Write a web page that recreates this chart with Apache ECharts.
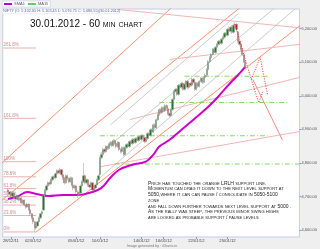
<!DOCTYPE html>
<html><head><meta charset="utf-8">
<script src="https://cdn.jsdelivr.net/npm/echarts@6/dist/echarts.min.js"></script>
<style>html,body{margin:0;padding:0;background:#efefef}#c{width:320px;height:249px}</style>
</head><body><div id="c"></div><script>
// ---------- data ----------
const legendNames = ['SMA1', 'MA15'];
const infoText = 'NIFTY (O: 5,102.65 H: 5,103.45 L: 5,076.75 C: 5,086.55)(30.01.2012)';
const titleText = '30.01.2012 - 60 min chart';
const noteLines = [
  'Price has touched the orange LRLH support line.',
  'Momentum can drag it down to the next level support at',
  '5050,where it can can pause / consolidate in 5050-5100',
  'zone',
  'and fall down further towards next level support at 5000 .',
  'As the rally was steep, the previous minor swing highs',
  'are looked as probable support / pause levels'
];
const footerText = 'Image generated by : iCharts.in';
const slotCount = 200;
const firstCandleSlot = 3;
const dateTicks = {5:'28/12/11', 20:'02/01/12', 49:'05/01/12', 65:'10/01/12', 93:'14/01/12', 108:'16/01/12', 130:'22/01/12', 151:'25/01/12'};
const yMin = 4580, yMax = 5258;
// [open, close, low, high]
const candles = [
[4720,4714,4708,4724],[4714,4708,4703,4717],[4708,4702,4697,4712],[4702,4711,4699,4714],
[4711,4699,4695,4713],[4699,4693,4688,4702],[4693,4702,4690,4706],[4702,4690,4686,4704],
[4690,4696,4687,4699],[4696,4681,4677,4699],[4681,4690,4678,4693],[4690,4675,4671,4692],
[4675,4669,4664,4679],[4669,4678,4666,4682],[4678,4661,4657,4680],[4661,4649,4644,4664],
[4649,4637,4632,4652],[4637,4625,4619,4640],[4625,4607,4596,4628],[4607,4613,4601,4617],
[4613,4625,4610,4628],[4625,4637,4621,4641],[4637,4649,4633,4652],[4649,4655,4645,4659],
[4660,4705,4658,4708],[4705,4720,4701,4724],[4720,4732,4716,4736],[4732,4741,4728,4745],
[4741,4738,4733,4746],[4738,4750,4734,4754],[4750,4759,4746,4763],[4759,4756,4751,4763],
[4756,4768,4752,4772],[4768,4777,4764,4782],[4777,4771,4766,4781],[4771,4780,4767,4786],
[4780,4765,4760,4783],[4765,4756,4750,4768],[4756,4741,4736,4759],[4741,4762,4738,4766],
[4762,4753,4748,4766],[4753,4744,4739,4757],[4744,4756,4740,4760],[4756,4735,4730,4759],
[4735,4726,4720,4739],[4726,4732,4722,4736],[4732,4714,4709,4735],[4714,4705,4696,4718],
[4705,4711,4701,4715],[4711,4732,4708,4736],[4732,4744,4728,4748],[4744,4762,4740,4800],
[4762,4741,4736,4766],[4741,4750,4737,4754],[4750,4735,4730,4753],[4735,4729,4724,4739],
[4729,4741,4726,4745],[4741,4720,4716,4744],[4720,4726,4716,4730],[4726,4735,4722,4739],
[4735,4750,4731,4754],[4750,4762,4746,4766],[4765,4816,4762,4820],[4816,4825,4812,4830],
[4825,4840,4821,4845],[4840,4834,4829,4844],[4834,4849,4830,4853],[4849,4843,4838,4853],
[4843,4855,4839,4859],[4855,4861,4851,4866],[4861,4852,4847,4865],[4852,4867,4848,4871],
[4867,4858,4853,4871],[4858,4849,4844,4862],[4849,4861,4845,4865],[4861,4840,4835,4864],
[4840,4834,4828,4844],[4834,4846,4830,4850],[4846,4825,4820,4849],[4825,4846,4822,4850],
[4846,4855,4842,4859],[4855,4849,4844,4859],[4849,4864,4845,4868],[4864,4858,4853,4868],
[4858,4870,4854,4874],[4870,4861,4856,4874],[4861,4873,4857,4877],[4873,4867,4862,4877],
[4867,4879,4863,4883],[4879,4870,4865,4883],[4870,4882,4866,4886],[4882,4876,4871,4886],
[4876,4864,4859,4880],[4864,4873,4860,4877],[4873,4888,4869,4892],[4888,4882,4877,4892],
[4882,4899,4878,4903],[4899,4893,4888,4903],[4893,4914,4889,4918],[4914,4905,4900,4918],
[4905,4929,4901,4933],[4929,4944,4925,4948],[4944,4959,4940,4963],[4959,4950,4945,4963],
[4950,4965,4946,4969],[4965,4956,4951,4969],[4956,4971,4952,4975],[4971,4962,4957,4975],
[4962,4947,4942,4966],[4947,4941,4936,4951],[4941,4959,4937,4963],[4959,4989,4955,4993],
[4989,5013,4985,5017],[5013,5019,5009,5024],[5019,5004,4999,5023],[5004,5031,5000,5035],
[5031,5025,5020,5035],[5025,5037,5021,5041],[5037,5019,5014,5041],[5019,5034,5015,5038],
[5034,5043,5030,5047],[5043,5025,5020,5047],[5025,5037,5021,5041],[5037,5031,5026,5041],
[5031,5049,5027,5053],[5049,5040,5035,5053],[5040,5019,5014,5044],[5019,5037,5015,5041],
[5037,5028,5023,5041],[5028,5043,5024,5047],[5043,5052,5039,5056],[5052,5040,5035,5056],
[5040,5055,5036,5059],[5055,5061,5051,5066],[5061,5078,5057,5082],[5078,5102,5074,5106],
[5102,5114,5098,5118],[5114,5123,5110,5127],[5123,5138,5119,5142],[5138,5129,5124,5142],
[5129,5144,5125,5148],[5144,5153,5140,5157],[5153,5162,5149,5166],[5162,5156,5151,5166],
[5156,5168,5152,5172],[5168,5174,5164,5178],[5174,5186,5170,5190],[5186,5180,5175,5190],
[5180,5198,5176,5202],[5198,5192,5187,5206],[5192,5204,5188,5208],[5204,5189,5184,5210],
[5189,5210,5185,5214],[5210,5213,5205,5218],[5213,5198,5193,5217],[5190,5162,5157,5193],
[5162,5153,5148,5166],[5153,5138,5133,5157],[5138,5123,5118,5142],[5123,5102,5097,5127],
[5102,5084,5078,5106]
];
// moving average path [slot, price]
const smaPoints = [[3,4693],[10,4702],[16,4714],[22,4708],[30,4702],[40,4705],[50,4705],[60,4714],[66,4726],
  [72,4756],[78,4780],[87,4795],[96,4804],[101,4825],[105,4849],[112,4869],[120,4899],[128,4929],
  [136,4959],[143,4989],[149,5019],[154,5043],[159,5066],[163,5087]];
const fibLabels = ['0%','23.6%','38.2%','50.0%','61.8%','78.6%','100%','161.8%','261.8%'];
const fibPrices = [4595,4644,4675,4700,4724,4759,4804,4933,5142];
const fibFromSlot = -0.5, fibToSlot = 22.2;
const orangeLines = [
  [[-5.2,4784],[118.2,5281]],
  [[-1.8,4686],[199.5,5407]],
  [[21.5,4595],[199.5,5209]]
];
const grayLines = [
  [[64.8,4828],[191.5,5295]],
  [[64.8,4756],[198.2,5264]],
  [[71.5,4913],[158.2,5243]]
];
const pinkLines = [
  [[64.8,5262],[200.2,5202]],
  [[64.8,4789],[200.2,4894]],
  [[84.8,4929],[200.2,5055]],
  [[111.5,5108],[200.2,5153]]
];
// [price, fromSlot, toSlot]
const greenLevels = [[5058,121.5,178.2],[4980,104.8,191.5],[4881,64.8,178.2],[4797,74.8,201.5]];
const redDotted = [
  [[156.2,5213],[166.8,5049],[172.8,5114],[178.2,5004]],
  [[166.8,5049],[171.5,4980],[174.8,5013]]
];
const redSolid = [[[168.2,5049],[188.2,4869]]];

// ---------- chart ----------
const chart = echarts.init(document.getElementById('c'), null, {renderer:'canvas'});
const slots = Array.from({length: slotCount}, (_, i) => String(i));
const candleData = slots.map((_, i) => candles[i - firstCandleSlot] || '-');
const isTick = (i) => dateTicks[i] !== undefined;

function lineSeries(pts, color, width, type, z) {
  return {type:'line', data: pts, symbol:'none', silent:true, clip:true, z: z || 2,
    lineStyle:{color, width, type: type || 'solid'}, animation:false};
}
const series = [];
series.push({type:'candlestick', name:'NIFTY', data: candleData, barWidth: 1.8, z: 5,
  itemStyle:{color:'#1f7a1f', color0:'#b52020', borderColor:'#9a9a9a', borderColor0:'#9a9a9a', borderWidth:0.5}});
orangeLines.forEach(l => series.push(lineSeries(l, '#f59070', 1)));
grayLines.forEach(l => series.push(lineSeries(l, '#cccccc', 1)));
pinkLines.forEach(l => series.push(lineSeries(l, '#f2b4b4', 1)));
greenLevels.forEach(g => series.push(lineSeries([[g[1], g[0]], [g[2], g[0]]], '#86d866', 1, [5,2,1,2])));
redDotted.forEach(l => series.push(lineSeries(l, '#e83030', 1, [1,1.5], 6)));
redSolid.forEach(l => series.push(lineSeries(l, '#f08a8a', 1)));
fibPrices.forEach(p => series.push(lineSeries([[fibFromSlot, p], [fibToSlot, p]], '#e8b0b0', 1)));
series.push({type:'scatter', silent:true, symbolSize:0, z:3,
  data: fibPrices.map((p, k) => [fibFromSlot, p, fibLabels[k]]),
  label:{show:true, position:'top', align:'left', distance:0.5, formatter: d => d.value[2],
    fontSize:4.5, color:'#c07070', fontFamily:'Liberation Sans'}});
series.push({type:'line', name: legendNames[0], data: smaPoints, smooth:0.4, symbol:'none', z:4,
  lineStyle:{color:'#cc00cc', width:2}, itemStyle:{color:'#cc00cc'}});
series.push({type:'line', name: legendNames[1], data: [], symbol:'none',
  lineStyle:{color:'#66cc66', width:1}, itemStyle:{color:'#66cc66'}});

chart.setOption({
  animation:false,
  backgroundColor:'#efefef',
  grid:{left:2, right:18, top:9, bottom:12, show:true, backgroundColor:'#ffffff', borderColor:'#c5cde8', borderWidth:1},
  legend:{show:true, left:2, top:1, itemWidth:8, itemHeight:2, itemGap:3, padding:[1,2],
    borderColor:'#b8c4e6', borderWidth:0.5, backgroundColor:'#ffffff',
    textStyle:{fontSize:4, color:'#555', fontFamily:'Liberation Sans', padding:[0,0,0,-3]},
    data: legendNames.map(n => ({name:n, icon:'rect'}))},
  xAxis:{type:'category', data: slots, boundaryGap:true,
    axisLine:{show:false}, splitLine:{show:false},
    axisTick:{show:true, alignWithLabel:true, interval: isTick, length:2, lineStyle:{color:'#8899cc'}},
    axisLabel:{interval: isTick, formatter: (v, i) => dateTicks[i] || '', fontSize:4.2, color:'#444',
      margin:2, fontFamily:'Liberation Sans'}},
  yAxis:{type:'value', position:'right', min:yMin, max:yMax, scale:true,
    axisLine:{show:false}, splitLine:{show:false},
    axisTick:{show:true, length:2, lineStyle:{color:'#8899cc'}},
    axisLabel:{showMinLabel:false, showMaxLabel:false, fontSize:4, color:'#555', margin:2,
      fontFamily:'Liberation Sans',
      formatter: v => v.toLocaleString('en-US', {minimumFractionDigits:2, maximumFractionDigits:2})}},
  graphic:[
    {type:'rect', left:2, top:8.5, shape:{width:116, height:5}, style:{fill:'#ffffff', stroke:'#d0d8ee', lineWidth:0.5}, z:10},
    {type:'text', left:3, top:9, z:11, style:{text: infoText, font:'3.8px "Liberation Sans"', fill:'#5a6a9a'}},
    {type:'text', left:30, top:19.5, z:11, style:{text: titleText, font:'small-caps 10px "Liberation Sans"', fill:'#111'}},
    {type:'text', left:148, top:180.3, z:11, style:{text: noteLines.join('\n'), font:'small-caps 5px "Liberation Sans"', lineHeight:5.75, fill:'#222'}},
    {type:'text', left:127, top:243.5, z:11, style:{text: footerText, font:'3.6px "Liberation Sans"', fill:'#777'}}
  ],
  series
});
</script></body></html>
